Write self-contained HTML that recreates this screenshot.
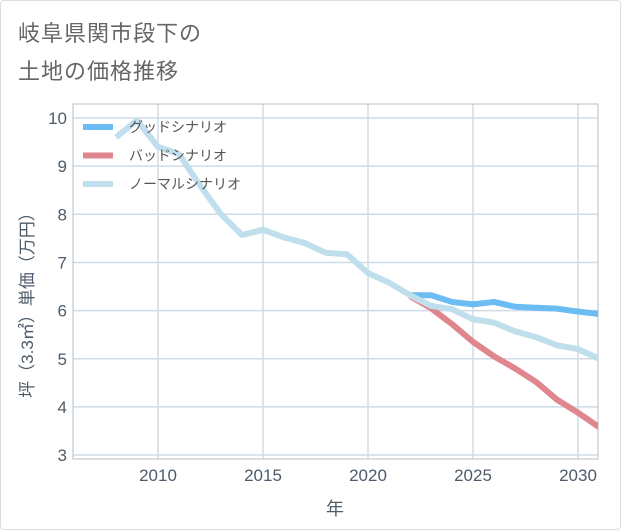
<!DOCTYPE html>
<html><head><meta charset="utf-8"><style>
body{margin:0;background:#fff;}
#card{position:absolute;left:0;top:0;width:619px;height:528px;border:1px solid #ddd;border-radius:4px;background:#fff;overflow:hidden}
#title{position:absolute;left:17px;top:14px;font:22px "Liberation Sans","Noto Sans CJK JP",sans-serif;color:#666;line-height:38px;letter-spacing:1px}
svg{position:absolute;left:0;top:0}
text{font-family:"Liberation Sans","Noto Sans CJK JP",sans-serif}
</style></head><body>
<div id="card">
<div id="title">岐阜県関市段下の<br>土地の価格推移</div>
<svg id="chart" width="621" height="530"></svg>
</div>
<script>
const years=[2008,2009,2010,2011,2012,2013,2014,2015,2016,2017,2018,2019,2020,2021,2022,2023,2024,2025,2026,2027,2028,2029,2030,2031];
const normalVals=[9.6,9.95,9.4,9.25,8.6,8.0,7.57,7.68,7.52,7.4,7.2,7.17,6.78,6.58,6.32,6.1,6.03,5.82,5.75,5.57,5.45,5.28,5.2,5.0];
const scenYears=[2022,2023,2024,2025,2026,2027,2028,2029,2030,2031];
const goodVals=[6.32,6.32,6.18,6.13,6.18,6.08,6.06,6.04,5.98,5.93];
const badVals=[6.3,6.05,5.72,5.35,5.05,4.8,4.52,4.15,3.88,3.58];
const xTicks=[2010,2015,2020,2025,2030];
const yTicks=[3,4,5,6,7,8,9,10];
const legendLabels=["グッドシナリオ","バッドシナリオ","ノーマルシナリオ"];
const legendColors=["#6bbcf2","#e0868f","#c0dfec"];

const L=72,R=597,T=103,B=458;
const X=v=>157+(v-2010)*21;
const Y=v=>117+(10-v)*48.15;
const svg=document.getElementById('chart');
const NS='http://www.w3.org/2000/svg';
function mk(tag,attrs,parent){const e=document.createElementNS(NS,tag);for(const k in attrs)e.setAttribute(k,attrs[k]);(parent||svg).appendChild(e);return e;}

for(const t of xTicks){
  const g=mk('line',{x1:X(t),x2:X(t),y1:T,y2:B,stroke:'#d0dbe6','stroke-width':1.5});
  
  
  const tx=mk('text',{x:X(t),y:480,'text-anchor':'middle','font-size':17,fill:'#4d5b6b'});
  tx.textContent=t;
  
  
}
for(const t of yTicks){
  const g=mk('line',{x1:L,x2:R,y1:Y(t),y2:Y(t),stroke:'#d0dbe6','stroke-width':1.5});
  
  
  const tx=mk('text',{x:66,y:Y(t)+6,'text-anchor':'end','font-size':17,fill:'#4d5b6b'});
  tx.textContent=t;
  
  
}
const fr=mk('rect',{x:L,y:T,width:R-L,height:B-T,fill:'none',stroke:'#b5bfca','stroke-width':1});



const clip=mk('clipPath',{id:'pc'});mk('rect',{x:L,y:T,width:R-L,height:B-T},clip);
function series(xs,vs,color,name){
  const p=mk('polyline',{points:xs.map((x,i)=>X(x)+','+Y(vs[i])).join(' '),fill:'none',stroke:color,'stroke-width':6,'stroke-linejoin':'round','clip-path':'url(#pc)'});
  
  
}
series(scenYears,badVals,legendColors[1],'bad-scenario-line');
series(scenYears,goodVals,legendColors[0],'good-scenario-line');
series(years,normalVals,legendColors[2],'normal-scenario-line');

legendLabels.forEach((lab,i)=>{
  const y=126+i*28.5;
  const l=mk('line',{x1:82,x2:112,y1:y,y2:y,stroke:legendColors[i],'stroke-width':6});
  
  
  const t=mk('text',{x:128,y:y+5,'font-size':14,fill:'#555'});
  t.textContent=lab;
  
  
});
const xt=mk('text',{x:334,y:514,'text-anchor':'middle','font-size':18,fill:'#4d5b6b'});
xt.textContent='年';


const yt=mk('text',{x:0,y:0,'text-anchor':'middle','font-size':17,fill:'#4d5b6b',transform:'translate(32,300) rotate(-90)'});
yt.textContent='坪（3.3㎡）単価（万円）';


</script>
</body></html>
